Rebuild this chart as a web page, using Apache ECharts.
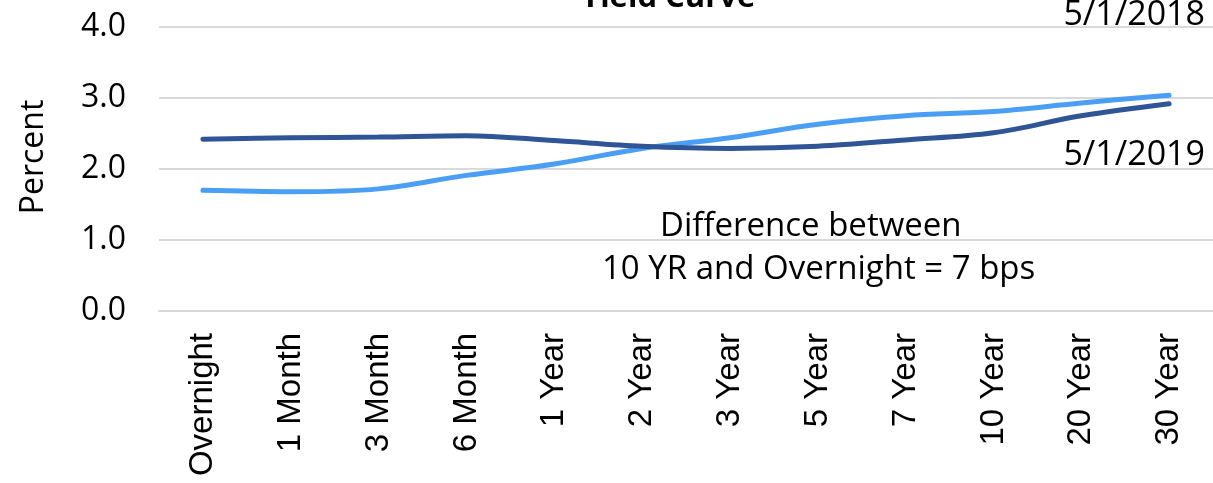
<!DOCTYPE html>
<html>
<head>
<meta charset="utf-8">
<script src="https://cdn.jsdelivr.net/npm/echarts@6/dist/echarts.min.js"></script>
<style>
html,body{margin:0;padding:0;background:#fff;}
#c{width:1213px;height:483px;}
</style>
</head>
<body>
<div id="c"></div>
<script>
const categories = ['Overnight','1 Month','3 Month','6 Month','1 Year','2 Year','3 Year','5 Year','7 Year','10 Year','20 Year','30 Year'];
const y2019 = [2.42, 2.44, 2.45, 2.47, 2.40, 2.32, 2.29, 2.32, 2.41, 2.51, 2.75, 2.92];
const y2018 = [1.70, 1.68, 1.72, 1.91, 2.07, 2.29, 2.44, 2.63, 2.75, 2.81, 2.93, 3.04];
const seriesNames = ['5/1/2019', '5/1/2018'];
const titleText = 'Yield Curve';
const yAxisName = 'Percent';
const noteLines = ['Difference between', '10 YR and Overnight = 7 bps'];

const txtFont = '"Open Sans", "Noto Sans", sans-serif';
const chart = echarts.init(document.getElementById('c'));
chart.setOption({
  animation: false,
  backgroundColor: '#fff',
  title: {
    text: titleText, left: 663, top: -22, textAlign: 'center',
    textStyle: {fontFamily: txtFont, fontSize: 31, fontWeight: 'bold', color: '#000'}
  },
  grid: {left: 159, top: 27, width: 1058, height: 284, containLabel: false},
  xAxis: {
    type: 'category', data: categories, boundaryGap: true,
    axisLine: {lineStyle: {color: '#d9d9d9', width: 2}},
    axisTick: {show: false},
    axisLabel: {rotate: 90, margin: 22, fontFamily: '"Liberation Sans", Arial, sans-serif', fontSize: 33, color: '#000', interval: 0}
  },
  yAxis: {
    type: 'value', min: 0, max: 4, interval: 1,
    axisLine: {show: false}, axisTick: {show: false},
    axisLabel: {formatter: v => v.toFixed(1), margin: 33, fontFamily: txtFont, fontSize: 32, color: '#000'},
    splitLine: {lineStyle: {color: '#d9d9d9', width: 2}}
  },
  series: [
    {name: seriesNames[0], type: 'line', data: y2019, smooth: 0.35, symbol: 'none',
     lineStyle: {color: '#2F5597', width: 5, cap: 'round'}, z: 3},
    {name: seriesNames[1], type: 'line', data: y2018, smooth: 0.35, symbol: 'none',
     lineStyle: {color: '#4A9FF5', width: 5, cap: 'round'}, z: 2}
  ],
  graphic: [
    {type: 'text', x: 34, y: 157, rotation: Math.PI / 2,
     style: {text: yAxisName, font: '32px ' + txtFont, fill: '#000', align: 'center', verticalAlign: 'middle'}},
    {type: 'text', right: 8, top: -2, style: {text: seriesNames[1], font: '34px ' + txtFont, fill: '#000'}},
    {type: 'text', right: 8, top: 138, style: {text: seriesNames[0], font: '34px ' + txtFont, fill: '#000'}},
    {type: 'text', left: 660, top: 210, style: {text: noteLines[0], font: '33px ' + txtFont, fill: '#000'}},
    {type: 'text', left: 602, top: 253, style: {text: noteLines[1], font: '33px ' + txtFont, fill: '#000'}}
  ]
});
</script>
</body>
</html>
